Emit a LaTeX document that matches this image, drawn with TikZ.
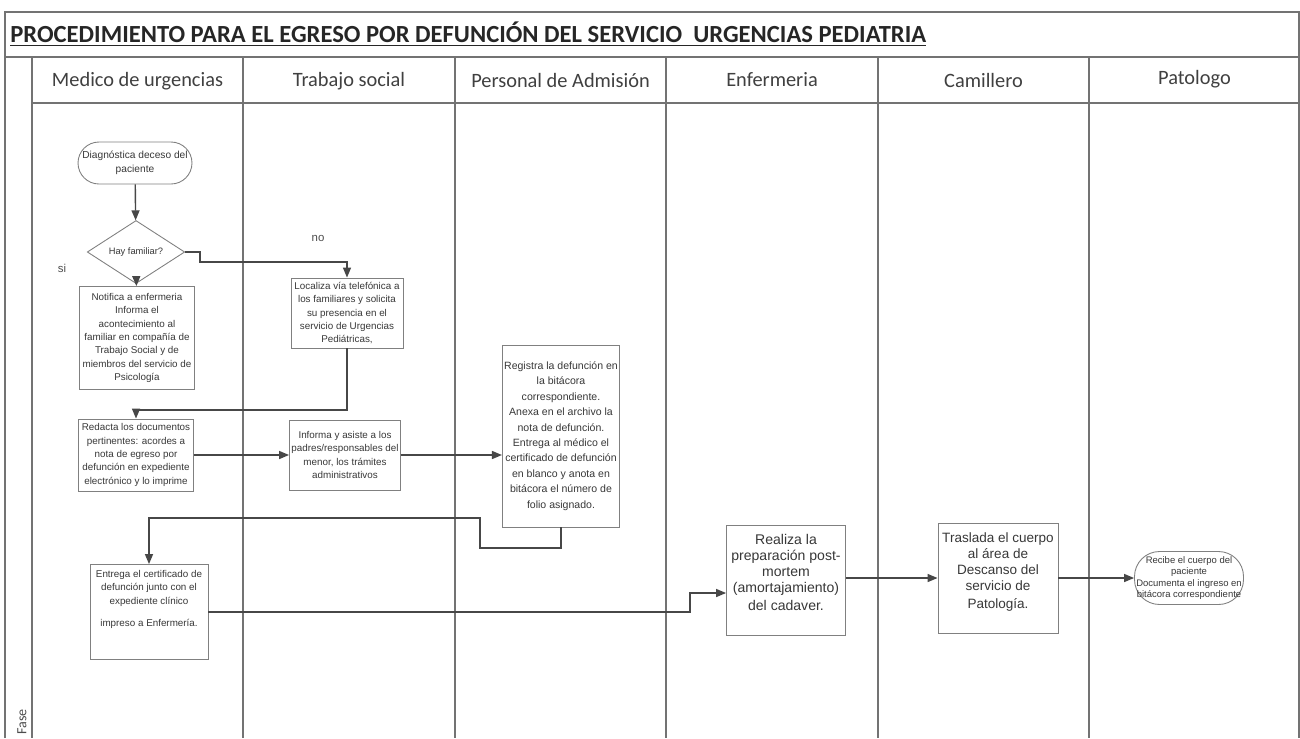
\documentclass[tikz,border=0pt]{standalone}
\usepackage{fontspec}
\setmainfont{Liberation Sans}
\newfontfamily\calib{Carlito}
\usetikzlibrary{arrows.meta,shapes.geometric}
\begin{document}
\begin{tikzpicture}[x=0.02cm,y=-0.02cm,
  frame/.style={draw=black!55, line width=0.6pt},
  box/.style={draw=black!50, line width=0.5pt, align=center, inner sep=1pt, text=black!78, font=\fontsize{5.6}{7.6}\selectfont},
  term/.style={box, rounded corners=0.42cm},
  flow/.style={draw=black!72, line width=0.8pt, -{Triangle[length=0.2cm,width=0.16cm]}},
  plain/.style={draw=black!72, line width=0.8pt},
  hdr/.style={font=\calib\fontsize{11.6}{13}\selectfont, text=black!75},
  lbl/.style={font=\fontsize{6.5}{8}\selectfont, text=black!70}
]
\useasboundingbox (0,0) rectangle (1300,738);
\fill[white] (0,0) rectangle (1300,738);

% frame
\draw[frame] (5,738) -- (5,12) -- (1299,12) -- (1299,738);
\draw[frame] (5,57) -- (1299,57);
\draw[frame] (32,103) -- (1299,103);
\foreach \xx in {32,243,455,666,878,1089} \draw[frame] (\xx,57) -- (\xx,738);

% title
\node[anchor=west, font=\calib\bfseries\fontsize{14}{16}\selectfont, text=black!85, inner sep=0pt] (title) at (10,34)
  {\underline{PROCEDIMIENTO PARA EL EGRESO POR DEFUNCIÓN DEL SERVICIO\ \ URGENCIAS PEDIATRIA}};

% headers
\node[hdr] (h1) at (137.5,81) {Medico de urgencias};
\node[hdr] (h2) at (349,81) {Trabajo social};
\node[hdr] (h3) at (560.5,80) {Personal de Admisión};
\node[hdr] (h4) at (772,80) {Enfermeria};
\node[hdr] (h5) at (983.5,80) {Camillero};
\node[hdr] (h6) at (1194.5,79) {Patologo};
\node[rotate=90, anchor=west, font=\calib\fontsize{8}{9}\selectfont, text=black!70, inner sep=0pt] (fase) at (22,735) {Fase};

% nodes
\node[term, font=\fontsize{5.8}{7.8}\selectfont, minimum width=2.28cm, minimum height=0.84cm] (diag) at (135,163)
  {Diagnóstica deceso del\\paciente};
\node[diamond, draw=black!50, line width=0.5pt, minimum width=1.95cm, minimum height=0.8cm, inner sep=0pt,
  text=black!78, font=\fontsize{5.3}{6}\selectfont] (fam) at (136,252) {Hay familiar?};
\node[box, minimum width=2.3cm, minimum height=2.06cm] (notif) at (137,338)
  {Notifica a enfermeria\\Informa el\\acontecimiento al\\familiar en compañía de\\Trabajo Social y de\\miembros del servicio de\\Psicología};
\node[box, minimum width=2.24cm, minimum height=1.4cm] (loc) at (347,313)
  {Localiza vía telefónica a\\los familiares y solicita\\su presencia en el\\servicio de Urgencias\\Pediátricas,};
\node[box, minimum width=2.3cm, minimum height=1.44cm] (red) at (136,455)
  {Redacta los documentos\\pertinentes: acordes a\\nota de egreso por\\defunción en expediente\\electrónico y lo imprime};
\node[box, minimum width=2.22cm, minimum height=1.4cm] (inf) at (345,455)
  {Informa y asiste a los\\padres/responsables del\\menor, los trámites\\administrativos};
\node[box, font=\fontsize{6}{8.8}\selectfont, minimum width=2.34cm, minimum height=3.64cm] (reg) at (561,436)
  {Registra la defunción en\\la bitácora\\correspondiente.\\Anexa en el archivo la\\nota de defunción.\\Entrega al médico el\\certificado de defunción\\en blanco y anota en\\bitácora el número de\\folio asignado.};
\node[box, minimum width=2.36cm, minimum height=1.9cm, text depth=0.55cm] (ent) at (149,612)
  {Entrega el certificado de\\defunción junto con el\\expediente clínico\\[5pt]impreso a Enfermería.};
\node[box, font=\fontsize{8}{9.2}\selectfont, minimum width=2.38cm, minimum height=2.2cm, text depth=0.3cm] (real) at (786,580)
  {Realiza la\\preparación post-\\mortem\\(amortajamiento)\\[1pt]del cadaver.};
\node[box, font=\fontsize{7.7}{9.2}\selectfont, minimum width=2.4cm, minimum height=2.2cm, text depth=0.3cm] (tras) at (998,578)
  {Traslada el cuerpo\\al área de\\Descanso del\\servicio de\\[1pt]Patología.};
\node[term, font=\fontsize{5.4}{6.3}\selectfont, rounded corners=0.5cm, minimum width=2.04cm, minimum height=1.06cm] (rec) at (1189,578)
  {Recibe el cuerpo del\\paciente\\Documenta el ingreso en\\bitácora correspondiente};

% labels
\node[lbl] (no) at (318,238) {no};
\node[lbl] (si) at (62,268) {si};

% connectors
\coordinate (c1) at (200,262);
\coordinate (c2) at (347,410);
\coordinate (c3) at (480,548);
\coordinate (c4) at (480,518);
\coordinate (c5) at (690,593);

\draw[flow] (diag) -- (fam);
\draw[flow] (fam) -- (notif);
\draw[flow] (fam.east) -| (c1) -| (loc.north);
\draw[flow] (loc.south) -- (c2) -| (red.north);
\draw[flow] (red.east) -- (inf.west);
\draw[flow] (inf.east) -- (reg.west |- inf.east);
\draw[flow] (reg.south) |- (c3) -- (c4) -| (ent.north);
\draw[flow] (ent.east) -| (c5) -- (real.west |- c5);
\draw[flow] (real.east |- tras.west) -- (tras.west);
\draw[flow] (tras.east) -- (rec.west);
\end{tikzpicture}
\end{document}
